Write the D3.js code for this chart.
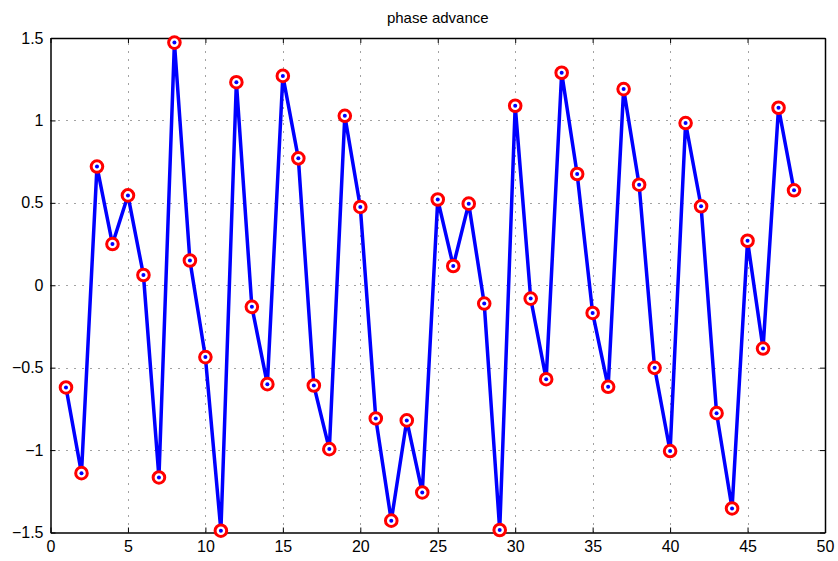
<!DOCTYPE html>
<html>
<head>
<meta charset="utf-8">
<script src="https://cdn.jsdelivr.net/npm/d3@7"></script>
<style>
  body { margin: 0; background: #fff; }
  svg { display: block; font-family: "Liberation Sans", Arial, sans-serif; }
</style>
</head>
<body>
<svg id="chart" width="838" height="561"></svg>
<script>
var title = 'phase advance';
var xTicks = [0, 5, 10, 15, 20, 25, 30, 35, 40, 45, 50];
var yTicks = [-1.5, -1, -0.5, 0, 0.5, 1, 1.5];

// phase advance per element (index 1..48)
var phase = [
  -0.62, -1.14, 0.72, 0.25, 0.545, 0.062, -1.166, 1.472, 0.15, -0.436,
  -1.489, 1.232, -0.131, -0.60, 1.27, 0.77, -0.608, -0.994, 1.028, 0.475,
  -0.808, -1.428, -0.82, -1.257, 0.52, 0.117, 0.495, -0.111, -1.485, 1.089,
  -0.081, -0.57, 1.289, 0.675, -0.168, -0.616, 1.19, 0.61, -0.501, -1.006,
  0.984, 0.479, -0.776, -1.354, 0.27, -0.384, 1.077, 0.576
];
var index = phase.map((d, i) => i + 1);

var svg = d3.select('#chart');
var plotLeft = 50.5, plotRight = 825, plotTop = 38, plotBottom = 532.5;

var x = d3.scaleLinear().domain([0, 50]).range([plotLeft, plotRight]);
var y = d3.scaleLinear().domain([-1.5, 1.5]).range([plotBottom, plotTop]);

// dotted grid
var grid = svg.append('g').attr('stroke', '#444').attr('stroke-width', 1)
  .attr('stroke-dasharray', '1,7');
grid.selectAll('line.vx')
  .data(xTicks.slice(1, -1))
  .enter().append('line')
  .attr('x1', (d) => Math.round(x(d)) + 0.5).attr('x2', (d) => Math.round(x(d)) + 0.5)
  .attr('y1', plotBottom).attr('y2', plotTop);
grid.selectAll('line.hy')
  .data(yTicks.slice(1, -1))
  .enter().append('line')
  .attr('y1', (d) => Math.round(y(d)) + 0.5).attr('y2', (d) => Math.round(y(d)) + 0.5)
  .attr('x1', plotLeft).attr('x2', plotRight);

// axes (MATLAB box style, inward ticks)
var fmt = (d) => d3.format('')(d).replace('-', '\u2212');
var xAxis = d3.axisBottom(x).tickValues(xTicks).tickSizeInner(-5).tickSizeOuter(0).tickPadding(8).tickFormat(fmt);
var xTop = d3.axisTop(x).tickValues(xTicks).tickSizeInner(-5).tickSizeOuter(0).tickFormat('');
var yAxis = d3.axisLeft(y).tickValues(yTicks).tickSizeInner(-5).tickSizeOuter(0).tickPadding(7).tickFormat(fmt);
var yRight = d3.axisRight(y).tickValues(yTicks).tickSizeInner(-5).tickSizeOuter(0).tickFormat('');

function styleAxis(g) {
  g.select('.domain').attr('stroke', '#000').attr('stroke-width', 1.5);
  g.selectAll('.tick line').attr('stroke', '#000');
  g.selectAll('.tick text').attr('fill', '#000').attr('font-size', 16);
}

svg.append('g').attr('transform', 'translate(0,' + plotBottom + ')').call(xAxis).call(styleAxis);
svg.append('g').attr('transform', 'translate(0,' + plotTop + ')').call(xTop).call(styleAxis);
svg.append('g').attr('transform', 'translate(' + plotLeft + ',0)').call(yAxis).call(styleAxis);
svg.append('g').attr('transform', 'translate(' + plotRight + ',0)').call(yRight).call(styleAxis);

// line
var line = d3.line().x((d, i) => x(index[i])).y((d) => y(d));
svg.append('path')
  .datum(phase)
  .attr('d', line)
  .attr('fill', 'none')
  .attr('stroke', '#0000ff')
  .attr('stroke-width', 3.5)
  .attr('stroke-linejoin', 'miter');

// markers
var marks = svg.append('g');
marks.selectAll('circle.ring')
  .data(phase)
  .enter().append('circle')
  .attr('cx', (d, i) => x(index[i]))
  .attr('cy', (d) => y(d))
  .attr('r', 5.8)
  .attr('fill', '#fff')
  .attr('stroke', '#ff0000')
  .attr('stroke-width', 3);
marks.selectAll('circle.dot')
  .data(phase)
  .enter().append('circle')
  .attr('cx', (d, i) => x(index[i]))
  .attr('cy', (d) => y(d))
  .attr('r', 2)
  .attr('fill', '#0000ff');

svg.append('text')
  .attr('x', (plotLeft + plotRight) / 2)
  .attr('y', 23)
  .attr('text-anchor', 'middle')
  .attr('font-size', 15)
  .attr('fill', '#000')
  .text(title);
</script>
</body>
</html>
